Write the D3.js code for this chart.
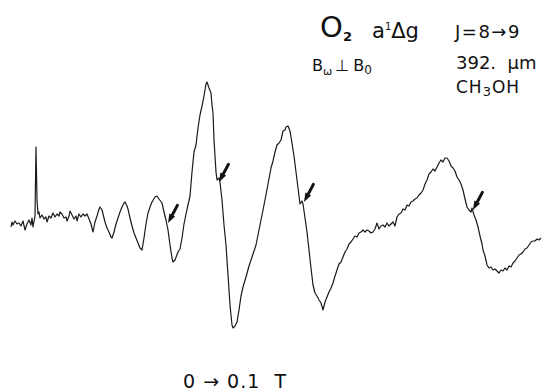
<!DOCTYPE html>
<html lang="en">
<head>
<meta charset="UTF-8">
<title>O2 a1Δg spectrum</title>
<style>
  body { margin: 0; background: #fff; }
  text { font-family: "DejaVu Sans", "Liberation Sans", sans-serif; fill: #111; }
</style>
</head>
<body>
<script src="https://d3js.org/d3.v7.min.js"></script>
<script>
const width = 555;
const height = 391;

// magnetic field sweep position (arbitrary units, 0 -> 0.1 T) and signal amplitude
const sweep = [0,1,2,4,6,8,10,12,14,16,18,20,21,22,24,25,26,27,28,29,31,33,35,36,38,40,42,44,46,48,49,51,53,55,56,58,59,61,63,65,66,68,70,72,74,76,78,80,82,84,86,88,89,91,92,94,96,98,100,101,103,105,107,109,111,113,114,116,117,119,121,123,125,127,129,131,133,135,137,139,141,144,146,148,151,153,155,157,159,161,162,164,167,169,171,173,175,177,179,181,183,185,187,189,191,193,195,196,198,200,201,202,203,205,206,208,209,211,213,215,217,219,221,222,224,226,228,230,232,235,238,242,245,248,251,254,257,260,262,264,266,268,270,272,274,275,277,279,281,283,284,286,288,289,291,292,294,296,298,300,302,304,306,308,310,312,314,316,318,320,322,324,326,328,330,332,334,336,338,340,342,344,346,348,350,352,354,356,358,360,362,364,366,368,370,372,374,376,378,380,382,384,386,388,390,392,394,396,398,400,402,404,406,408,410,412,414,416,418,420,422,424,426,428,430,432,434,436,438,440,442,444,446,448,450,452,454,456,458,460,461,463,465,467,469,471,472,474,476,478,480,482,484,486,488,490,492,494,496,498,500,502,504,506,508,510,512,514,516,518,520,522,524,526,528,530];
const signal = [-7,-2,-5,-1,-4,-3,-6,-1,-10,-4,0,-5,2,-7,4,73,20,6,8,2,5,1,3,-2,4,2,7,3,6,4,8,6,2,3,-1,4,9,5,1,4,-1,6,3,6,4,6,1,-4,-12,-2,4,11,13,10,6,-2,-8,-12,-17,-18,-12,-4,2,8,13,17,18,14,11,2,-6,-13,-18,-23,-28,-30,-18,-4,7,13,18,23,24,21,17,8,0,-10,-25,-38,-42,-40,-32,-29,-18,-4,6,15,24,48,68,75,92,105,114,124,136,138,132,127,115,107,80,48,40,42,38,20,-5,-25,-55,-85,-105,-108,-106,-102,-90,-76,-67,-57,-46,-34,-25,-10,5,20,36,52,59,68,75,77,80,89,90,93,94,89,77,64,56,40,24,16,19,16,2,-12,-30,-48,-65,-73,-76,-80,-83,-90,-82,-77,-72,-68,-63,-56,-50,-44,-42,-37,-32,-29,-24,-22,-19,-16,-17,-13,-12,-10,-12,-10,-11,-13,-12,-9,-3,-9,-6,-5,-7,-3,-6,-4,-2,-6,3,6,7,11,10,15,14,18,19,21,22,25,27,30,36,40,46,48,51,49,53,57,60,58,62,62,59,54,52,49,43,40,36,30,21,13,10,8,12,5,0,-7,-16,-24,-30,-36,-45,-48,-47,-50,-49,-51,-53,-50,-51,-48,-50,-46,-47,-43,-41,-38,-35,-34,-32,-29,-28,-25,-22,-21,-21,-19,-20,-18];

// arrows marking the weak features on the trace
const arrowSweep = [156, 207, 292, 461];
const arrowSignal = [-3, 38, 18, 10];

const svg = d3.select("body")
  .append("svg")
  .attr("width", width)
  .attr("height", height);

const x = d3.scaleLinear().domain([0, 530]).range([11, 541]);
const y = d3.scaleLinear().domain([-110, 140]).range([330, 80]);

const line = d3.line()
  .x(i => x(sweep[i]))
  .y(i => y(signal[i]));

svg.append("path")
  .datum(d3.range(sweep.length))
  .attr("d", line)
  .attr("fill", "none")
  .attr("stroke", "#1a1a1a")
  .attr("stroke-width", 1.2)
  .attr("stroke-linejoin", "round");

// arrows: thick short shaft + head pointing down-left at the trace
const arrows = svg.append("g").selectAll("g")
  .data(arrowSweep.map((s, i) => [s, arrowSignal[i]]))
  .enter()
  .append("g")
  .attr("transform", d => "translate(" + (x(d[0]) + 1) + "," + y(d[1]) + ") rotate(-62)");

arrows.append("line")
  .attr("x1", 6).attr("y1", 0)
  .attr("x2", 20).attr("y2", 0)
  .attr("stroke", "#111")
  .attr("stroke-width", 3)
  .attr("stroke-linecap", "round");

arrows.append("path")
  .attr("d", "M0,0 L9,-3.2 L9,3.2 Z")
  .attr("fill", "#111");

// labels
const t = svg.append("g");

t.append("text").attr("x", 320).attr("y", 37)
  .attr("font-size", 29).text("O");
t.append("text").attr("x", 343).attr("y", 41)
  .attr("font-size", 13).attr("font-weight", "bold").text("2");

const a = t.append("text").attr("x", 372).attr("y", 38).attr("font-size", 21);
a.append("tspan").text("a");
a.append("tspan").attr("dy", -8).attr("font-size", 10).text("1");
a.append("tspan").attr("dy", 8).text("Δg");

t.append("text").attr("x", 455).attr("y", 38)
  .attr("font-size", 18).attr("letter-spacing", 1.5).text("J=8→9");

const b = t.append("text").attr("x", 312).attr("y", 71).attr("font-size", 16);
b.append("tspan").text("B");
b.append("tspan").attr("dy", 4).attr("font-size", 11).text("ω");
b.append("tspan").attr("dy", -4).attr("dx", 3).text("⊥");
b.append("tspan").attr("dx", 4).text("B");
b.append("tspan").attr("dy", 3).attr("font-size", 12).text("0");

t.append("text").attr("x", 456).attr("y", 69)
  .attr("font-size", 18).attr("xml:space", "preserve").text("392.  μm");

const c = t.append("text").attr("x", 456).attr("y", 93)
  .attr("font-size", 17).attr("letter-spacing", 1);
c.append("tspan").text("CH");
c.append("tspan").attr("dy", 3).attr("font-size", 13).text("3");
c.append("tspan").attr("dy", -3).text("OH");

t.append("text").attr("x", 183).attr("y", 388)
  .attr("font-size", 19).attr("letter-spacing", 1).attr("xml:space", "preserve").text("0 → 0.1  T");
</script>
</body>
</html>
